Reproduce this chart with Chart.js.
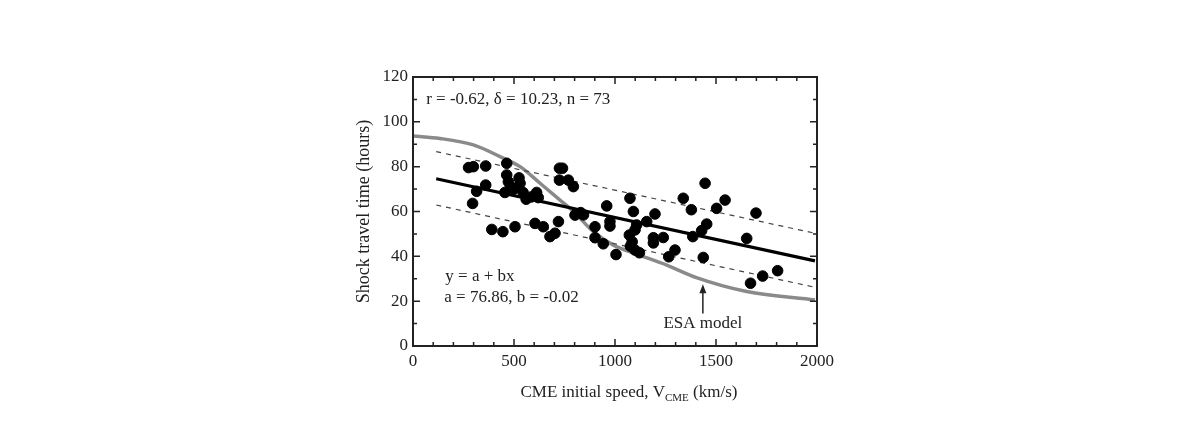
<!DOCTYPE html>
<html>
<head>
<meta charset="utf-8">
<script src="https://cdn.jsdelivr.net/npm/chart.js@4.4.1/dist/chart.umd.min.js"></script>
<style>
  body { margin: 0; background: #fff; }
  #wrap { width: 1190px; height: 444px; }
</style>
</head>
<body>
<div id="wrap"><canvas id="myChart" width="1190" height="444"></canvas></div>
<script>
// observed events: CME speed (km/s) vs shock travel time (hours)
var speeds = [275, 299, 295, 315, 360, 360, 390, 445, 455, 464, 464, 472, 482, 500, 525, 530, 505, 545, 560,
    585, 604, 612, 620, 645, 678, 703, 720, 725, 740, 725, 769, 794, 802, 830, 844, 901, 901, 942, 959,
    975, 975, 1005, 1074, 1071, 1085, 1091, 1099, 1107, 1076, 1099, 1121, 1157, 1190, 1190, 1198, 1239,
    1266, 1297, 1338, 1378, 1385, 1429, 1446, 1454, 1437, 1503, 1545, 1652, 1698, 1671, 1731, 1805];
var times = [79.6, 80, 63.6, 69, 80.3, 71.8, 52, 51, 68.5, 81.5, 76.3, 73.3, 71, 70, 75, 72.6, 53.2, 68.5, 65.5,
    66.5, 54.7, 68.5, 66.2, 53.2, 48.8, 50.3, 55.5, 79.3, 79.3, 74, 74, 71.1, 58.4, 59.5, 58.5, 53.2, 48.3, 45.6, 62.5,
    55.5, 53.5, 40.8, 65.9, 49.5, 46.5, 60, 51.8, 54, 44.5, 42.8, 41.6, 55.5, 48.3, 46, 58.9, 48.4,
    39.8, 42.8, 65.9, 60.8, 48.8, 51.5, 72.6, 54.4, 39.5, 61.4, 65.1, 48, 59.3, 28, 31.2, 33.6];

// linear fit y = a + bx and +/- delta band
var fitX = [115, 1990];
var fitY = [74.6, 38.0];
var upperY = [86.7, 50.3];
var lowerY = [62.9, 26.2];

// ESA model curve
var esaX = [0, 133, 299, 431, 530, 629, 728, 800, 893, 992, 1107, 1256, 1403, 1652, 1990];
var esaY = [93.7, 92.6, 89.7, 84.5, 80, 72.6, 65.1, 59.5, 51, 45, 41, 36.1, 30.5, 24.3, 20.5];

var xTicks = [0, 500, 1000, 1500, 2000];
var yTicks = [0, 20, 40, 60, 80, 100, 120];

function pts(xs, ys) {
    return xs.map(function (x, i) { return {x: x, y: ys[i]}; });
}

var serif = '"Liberation Serif", "DejaVu Serif", serif';
var ink = '#222';

var framePlugin = {
    id: 'frame',
    afterDraw: function (chart) {
        var c = chart.ctx, a = chart.chartArea;
        var xs = chart.scales.x, ys = chart.scales.y;
        c.save();
        c.strokeStyle = ink;
        c.lineWidth = 2;
        c.strokeRect(a.left, a.top, a.right - a.left, a.bottom - a.top);
        // inward ticks on all four sides
        c.lineWidth = 1.5;
        for (var v = 0; v <= 2000; v += 100) {
            var px = xs.getPixelForValue(v);
            var len = v % 500 === 0 ? 7 : 4;
            c.beginPath();
            c.moveTo(px, a.bottom); c.lineTo(px, a.bottom - len);
            c.moveTo(px, a.top); c.lineTo(px, a.top + len);
            c.stroke();
        }
        for (var w = 0; w <= 120; w += 10) {
            var py = ys.getPixelForValue(w);
            var l2 = w % 20 === 0 ? 7 : 4;
            c.beginPath();
            c.moveTo(a.left, py); c.lineTo(a.left + l2, py);
            c.moveTo(a.right, py); c.lineTo(a.right - l2, py);
            c.stroke();
        }

        c.fillStyle = ink;
        c.textBaseline = 'middle';
        c.font = '17px ' + serif;
        c.textAlign = 'left';
        c.fillText('r = -0.62, \u03b4 = 10.23, n = 73', xs.getPixelForValue(65), ys.getPixelForValue(110));
        c.fillText('y = a + bx', xs.getPixelForValue(160), ys.getPixelForValue(31));
        c.fillText('a = 76.86, b = -0.02', xs.getPixelForValue(155), ys.getPixelForValue(21.5));
        c.textAlign = 'center';
        c.fillText('ESA model', xs.getPixelForValue(1435), ys.getPixelForValue(10));

        // arrow to ESA curve
        var ax = xs.getPixelForValue(1435);
        var ay1 = ys.getPixelForValue(14.5), ay2 = ys.getPixelForValue(27.5);
        c.lineWidth = 1.5;
        c.beginPath(); c.moveTo(ax, ay1); c.lineTo(ax, ay2 + 4); c.stroke();
        c.beginPath();
        c.moveTo(ax, ay2); c.lineTo(ax - 3.5, ay2 + 9); c.lineTo(ax + 3.5, ay2 + 9); c.closePath();
        c.fill();

        // axis titles
        c.font = '18px ' + serif;
        c.save();
        c.translate(364, (a.top + a.bottom) / 2);
        c.rotate(-Math.PI / 2);
        c.textAlign = 'center';
        c.fillText('Shock travel time (hours)', 0, 0);
        c.restore();

        var p1 = 'CME initial speed, V', sub = 'CME', p2 = ' (km/s)';
        c.font = '17px ' + serif;
        var w1 = c.measureText(p1).width, w3 = c.measureText(p2).width;
        c.font = '11px ' + serif;
        var w2 = c.measureText(sub).width;
        var total = w1 + w2 + w3;
        var sx = 629 - total / 2, ty = 393;
        c.textAlign = 'left';
        c.font = '17px ' + serif;
        c.fillText(p1, sx, ty);
        c.font = '11px ' + serif;
        c.fillText(sub, sx + w1, ty + 5);
        c.font = '17px ' + serif;
        c.fillText(p2, sx + w1 + w2, ty);
        c.restore();
    }
};

var ctx = document.getElementById('myChart').getContext('2d');
var myChart = new Chart(ctx, {
    type: 'scatter',
    data: {
        datasets: [
            {
                label: 'events',
                data: pts(speeds, times),
                backgroundColor: '#000',
                borderColor: '#000',
                pointRadius: 5.3,
                order: 1
            },
            {
                label: 'fit',
                type: 'line',
                data: pts(fitX, fitY),
                borderColor: '#000',
                borderWidth: 3.2,
                pointRadius: 0,
                order: 2
            },
            {
                label: 'upper',
                type: 'line',
                data: pts(fitX, upperY),
                borderColor: '#444',
                borderWidth: 1.2,
                borderDash: [5, 5],
                pointRadius: 0,
                order: 3
            },
            {
                label: 'lower',
                type: 'line',
                data: pts(fitX, lowerY),
                borderColor: '#444',
                borderWidth: 1.2,
                borderDash: [5, 5],
                pointRadius: 0,
                order: 3
            },
            {
                label: 'ESA model',
                type: 'line',
                data: pts(esaX, esaY),
                borderColor: '#8a8a8a',
                borderWidth: 3.5,
                pointRadius: 0,
                cubicInterpolationMode: 'monotone',
                order: 4
            }
        ]
    },
    options: {
        responsive: false,
        animation: false,
        events: [],
        layout: {padding: {left: 368, right: 373, top: 77, bottom: 68}},
        plugins: {legend: {display: false}, tooltip: {enabled: false}},
        scales: {
            x: {
                type: 'linear',
                min: 0,
                max: 2000,
                afterFit: function (s) { s.height = 30; },
                afterBuildTicks: function (s) { s.ticks = xTicks.map(function (v) { return {value: v}; }); },
                grid: {display: false, drawTicks: false},
                border: {display: false},
                ticks: {
                    padding: 5, color: ink, font: {family: serif, size: 17}, maxRotation: 0,
                    callback: function (v) { return String(v); }
                }
            },
            y: {
                type: 'linear',
                min: 0,
                max: 120,
                afterFit: function (s) { s.width = 45; },
                afterBuildTicks: function (s) { s.ticks = yTicks.map(function (v) { return {value: v}; }); },
                grid: {display: false, drawTicks: false},
                border: {display: false},
                ticks: {padding: 5, color: ink, font: {family: serif, size: 17}}
            }
        }
    },
    plugins: [framePlugin]
});
</script>
</body>
</html>
